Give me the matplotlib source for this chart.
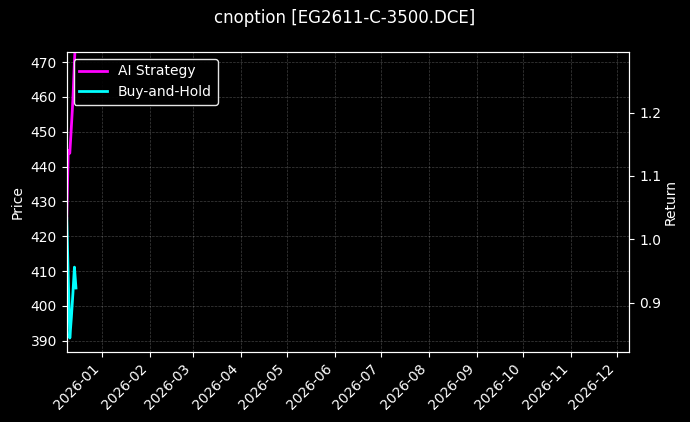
import datetime as dt
import matplotlib
matplotlib.use("Agg")
import matplotlib.pyplot as plt
import matplotlib.dates as mdates

# values
dates = [dt.datetime(2025, 12, 9) + dt.timedelta(days=i) for i in range(7)]
ai_return = [1.033, 1.140, 1.136, 1.177, 1.220, 1.280, 1.330]
bh_return = [1.033, 0.940, 0.844, 0.876, 0.914, 0.956, 0.923]

x_start = dt.datetime(2025, 12, 9)
x_end = dt.datetime(2026, 12, 9)
price_lim = (386.8, 472.9)
return_lim = (0.822, 1.296)

plt.style.use("dark_background")
fig = plt.figure(figsize=(6.9, 4.22), dpi=100)
ax = fig.add_axes([0.0967, 0.166, 0.8153, 0.711])
ax2 = ax.twinx()

ax2.plot(dates, ai_return, color="#ff00ff", linewidth=2, label="AI Strategy")
ax2.plot(dates, bh_return, color="#00ffff", linewidth=2, label="Buy-and-Hold")

ax.set_xlim(x_start, x_end)
ax.set_ylim(*price_lim)
ax2.set_ylim(*return_lim)

ax.xaxis.set_major_locator(mdates.MonthLocator())
ax.xaxis.set_major_formatter(mdates.DateFormatter("%Y-%m"))
plt.setp(ax.get_xticklabels(), rotation=45, ha="right")

ax.set_ylabel("Price")
ax2.set_ylabel("Return", labelpad=2)
ax.grid(True, linestyle="--", linewidth=0.5, alpha=0.25)

ax2.legend(loc="upper left", facecolor="black", edgecolor="white", framealpha=0.9)
fig.suptitle("cnoption [EG2611-C-3500.DCE]", fontsize=12, y=0.979)

fig.savefig("out.png", dpi=100, facecolor="black")
